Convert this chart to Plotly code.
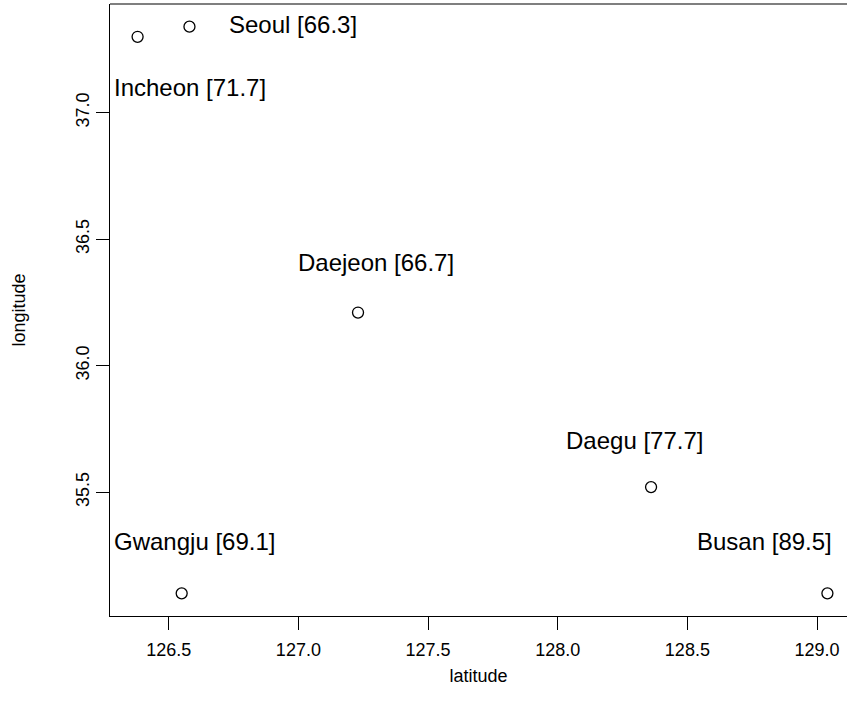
import plotly.graph_objects as go

# City coordinates (longitude on x, labelled "latitude"; latitude on y, labelled "longitude")
cities = ["Seoul", "Incheon", "Daejeon", "Daegu", "Busan", "Gwangju"]
lon = [126.58, 126.38, 127.23, 128.36, 129.04, 126.55]
lat = [37.34, 37.30, 36.21, 35.52, 35.10, 35.10]
scores = [66.3, 71.7, 66.7, 77.7, 89.5, 69.1]

# label placement relative to each point, in pixels (dx, dy, anchor)
label_offsets = [
    (38, 2, "left"),
    (52, -51, "center"),
    (18, 50, "center"),
    (-17, 47, "center"),
    (-63, 52, "center"),
    (13, 52, "center"),
]

FONT = "Liberation Sans, Arial, Helvetica, sans-serif"

# base-R style axis limits: data range padded by 4% on each side
def padded(vals):
    lo, hi = min(vals), max(vals)
    p = (hi - lo) * 0.04
    return lo - p, hi + p

x_lo, x_hi = padded(lon)
y_lo, y_hi = padded(lat)

W, H = 847, 712
ml, mr, mt, mb = 110, 0, 4, 96
# the plotting region extends slightly past the right edge of the page
full_px = 745
x_hi_vis = x_lo + (x_hi - x_lo) * (W - ml - mr) / full_px

fig = go.Figure()
fig.add_trace(go.Scatter(
    x=lon, y=lat, mode="markers",
    marker=dict(symbol="circle-open", size=11, color="black",
                line=dict(color="black", width=1.3)),
    hoverinfo="skip", showlegend=False,
))

for name, x, y, s, (dx, dy, anc) in zip(cities, lon, lat, scores, label_offsets):
    fig.add_annotation(
        x=x, y=y, xref="x", yref="y",
        text=f"{name} [{s:.1f}]", showarrow=False,
        xanchor=anc, yanchor="middle", xshift=dx, yshift=dy,
        font=dict(family=FONT, size=24, color="black"),
    )

axis_common = dict(
    showgrid=False, zeroline=False, showline=True, linecolor="black",
    linewidth=1.2, ticks="outside", ticklen=13, tickwidth=1.2,
    tickcolor="black", tickformat=".1f", mirror=False,
    tickfont=dict(family=FONT, size=18, color="black"),
    title_font=dict(family=FONT, size=18, color="black"),
)

fig.update_xaxes(
    range=[x_lo, x_hi_vis], tickvals=[126.5, 127.0, 127.5, 128.0, 128.5, 129.0],
    title_text="latitude", title_standoff=10,
    ticklabelstandoff=4, **axis_common,
)
fig.update_yaxes(
    range=[y_lo, y_hi], tickvals=[35.5, 36.0, 36.5, 37.0],
    tickangle=-90, title_text="longitude", title_standoff=42,
    ticklabelstandoff=0, **axis_common,
)

# top edge of the plotting box
fig.add_shape(type="line", xref="paper", yref="paper", x0=0, x1=1, y0=1, y1=1,
              line=dict(color="black", width=1.2))

fig.update_layout(
    width=W, height=H,
    margin=dict(l=ml, r=mr, t=mt, b=mb, pad=0),
    plot_bgcolor="white", paper_bgcolor="white",
)

fig.write_html("out.html")
